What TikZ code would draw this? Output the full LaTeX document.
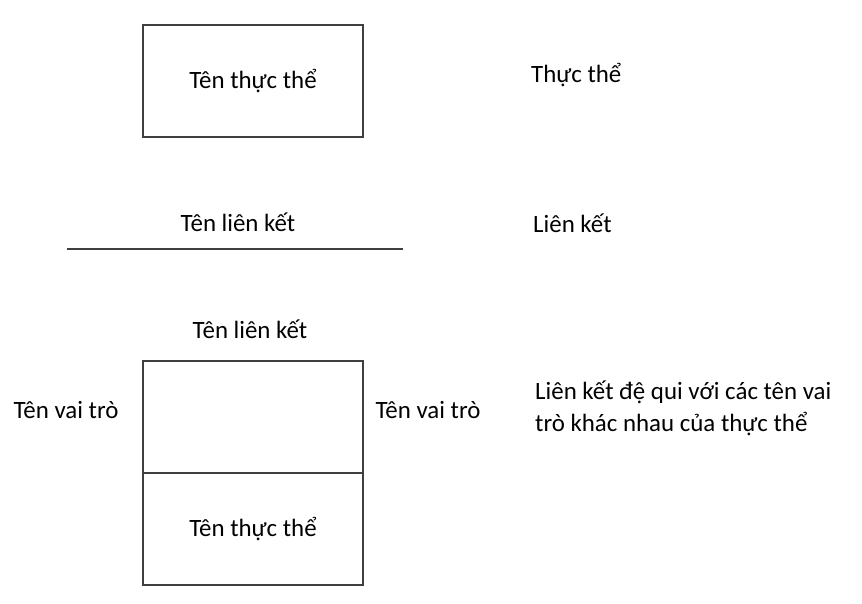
\documentclass[tikz,border=0pt]{standalone}
\usepackage{fontspec}
\setmainfont{Carlito}

\tikzstyle{ent}=[draw=black!75,line width=1.6pt,minimum width=220pt,minimum height=112pt,inner sep=0pt,font=\fontsize{24.9}{32}\selectfont]
\tikzstyle{lbl}=[inner sep=0pt,font=\fontsize{24.9}{32}\selectfont]
\tikzstyle{rel}=[draw=black!75,line width=1.6pt]

\begin{document}
\begin{tikzpicture}[x=1pt,y=-1pt]
        \useasboundingbox (0,0) rectangle (862,604);
        % thuc the
        \draw (253,81) node[ent](e1){Tên thực thể};
        \draw (531,83) node[lbl,anchor=base west](d1){Thực thể};
        % lien ket
        \draw (238,232) node[lbl,anchor=base](r1){Tên liên kết};
        \coordinate (a) at (67,249);
        \coordinate (b) at (403,249);
        \path (a) edge[rel] (b);
        \draw (533,233) node[lbl,anchor=base west](d2){Liên kết};
        % lien ket de qui
        \draw (250,338) node[lbl,anchor=base](r2){Tên liên kết};
        \draw (253,417) node[ent](e2){};
        \draw (253,529) node[ent](e3){Tên thực thể};
        \draw (66,418) node[lbl,anchor=base](v1){Tên vai trò};
        \draw (428,418) node[lbl,anchor=base](v2){Tên vai trò};
        \draw (535,431) node[lbl,anchor=base west,align=left](d3){Liên kết đệ qui với các tên vai\\trò khác nhau của thực thể};
\end{tikzpicture}
\end{document}
